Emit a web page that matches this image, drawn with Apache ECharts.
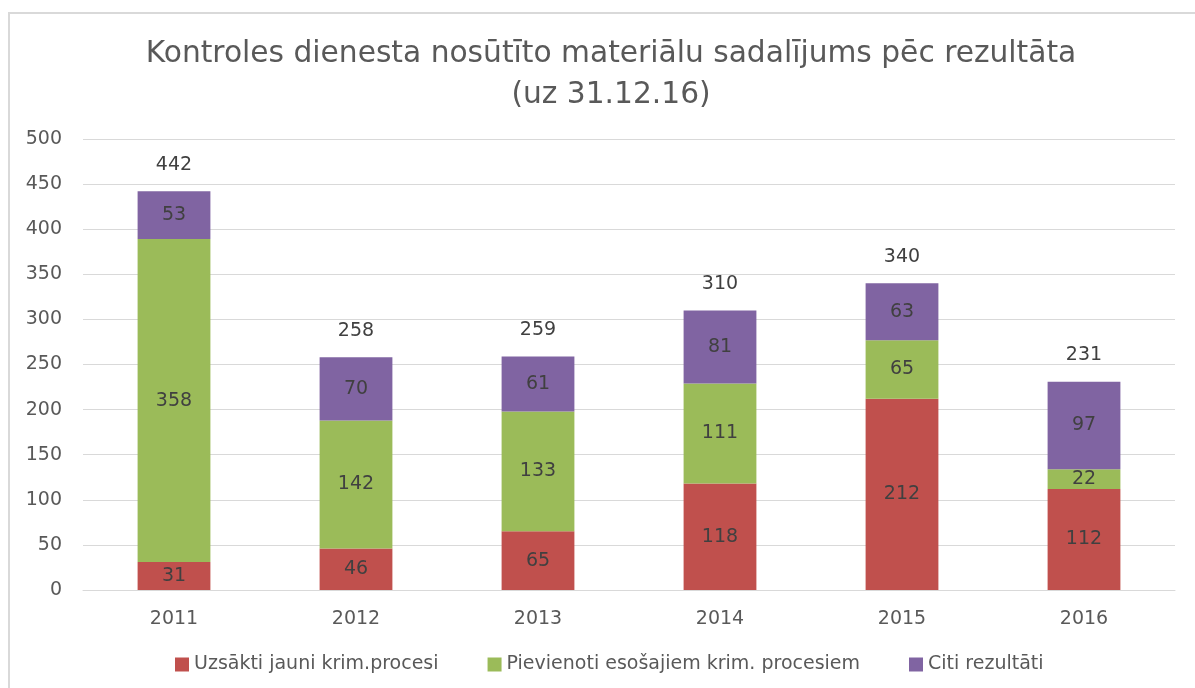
<!DOCTYPE html>
<html lang="lv">
<head>
<meta charset="UTF-8">
<title>Kontroles dienesta materiāli</title>
<script src="https://cdn.jsdelivr.net/npm/echarts@6/dist/echarts.min.js"></script>
<style>
  html, body { margin: 0; padding: 0; background: #fff; }
  #frame { position: absolute; left: 8px; top: 12px; width: 1200px; height: 700px; border: 2px solid #d9d9d9; box-sizing: border-box; }
  #main { position: absolute; left: 0; top: 0; width: 1195px; height: 688px; }
</style>
</head>
<body>
<div id="frame"></div>
<div id="main"></div>
<script>
// dati
var years = ['2011', '2012', '2013', '2014', '2015', '2016'];
var uzsakti = [31, 46, 65, 118, 212, 112];
var pievienoti = [358, 142, 133, 111, 65, 22];
var citi = [53, 70, 61, 81, 63, 97];
var kopa = [442, 258, 259, 310, 340, 231];

var chart = echarts.init(document.getElementById('main'));

var labelStyle = { show: true, position: 'inside', color: '#404040', fontFamily: 'DejaVu Sans', fontSize: 19 };

var option = {
  animation: false,
  title: {
    text: 'Kontroles dienesta nosūtīto materiālu sadalījums pēc rezultāta\n(uz 31.12.16)',
    left: 606,
    textAlign: 'center',
    top: 29,
    textStyle: { color: '#595959', fontFamily: 'DejaVu Sans', fontWeight: 'normal', fontSize: 29.7, lineHeight: 41 }
  },
  legend: {
    data: ['Uzsākti jauni krim.procesi', 'Pievienoti esošajiem krim. procesiem', 'Citi rezultāti'],
    bottom: 9,
    left: 170,
    icon: 'rect',
    itemWidth: 14,
    itemHeight: 14,
    itemGap: 49,
    textStyle: { color: '#595959', fontFamily: 'DejaVu Sans', fontSize: 19 }
  },
  grid: { left: 83, right: 20, top: 139, bottom: 98 },
  xAxis: {
    type: 'category',
    data: years,
    axisLine: { lineStyle: { color: '#d9d9d9', width: 1 } },
    axisTick: { show: false },
    axisLabel: { color: '#595959', fontFamily: 'DejaVu Sans', fontSize: 19, margin: 20 }
  },
  yAxis: {
    type: 'value',
    min: 0,
    max: 500,
    interval: 50,
    axisLine: { show: false },
    axisTick: { show: false },
    axisLabel: { color: '#595959', fontFamily: 'DejaVu Sans', fontSize: 19, margin: 21 },
    splitLine: { lineStyle: { color: '#d9d9d9', width: 1 } }
  },
  series: [
    { name: 'Uzsākti jauni krim.procesi', type: 'bar', stack: 'a', barWidth: '40%', data: uzsakti, itemStyle: { color: '#C0504D' }, label: labelStyle },
    { name: 'Pievienoti esošajiem krim. procesiem', type: 'bar', stack: 'a', data: pievienoti, itemStyle: { color: '#9BBB59' }, label: labelStyle },
    { name: 'Citi rezultāti', type: 'bar', stack: 'a', data: citi, itemStyle: { color: '#8064A2' }, label: labelStyle },
    {
      name: 'Kopā', type: 'scatter', data: kopa, symbolSize: 2, silent: true, z: 5,
      itemStyle: { color: 'rgba(255,255,255,0)' },
      label: { show: true, position: 'top', distance: 16, color: '#404040', opacity: 1, fontFamily: 'DejaVu Sans', fontSize: 19 }
    }
  ]
};

chart.setOption(option);
</script>
</body>
</html>
